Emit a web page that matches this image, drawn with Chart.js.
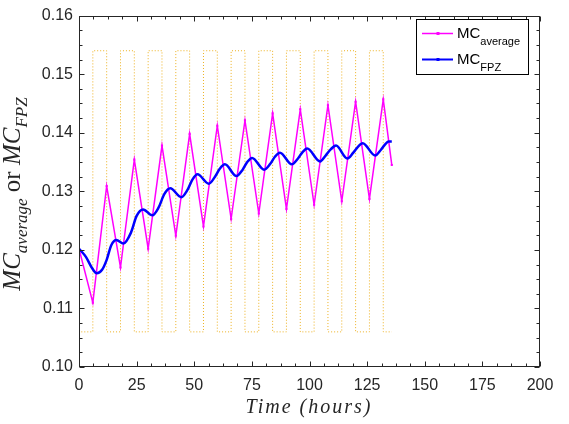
<!DOCTYPE html>
<html>
<head>
<meta charset="utf-8">
<script src="https://cdn.jsdelivr.net/npm/chart.js@4"></script>
<style>
  body { margin: 0; background: #fff; }
  #wrap { width: 569px; height: 424px; }
</style>
</head>
<body>
<div id="wrap"><canvas id="chart" width="569" height="424"></canvas></div>
<script>
// MC_FPZ (blue, smooth)
const fpzHours = [0, 3, 5.5, 7.7, 10, 12, 14, 16.2, 19.3, 22.5, 25, 27.8, 31.8, 34.5, 37, 39.6, 44.4, 47, 49.2, 51.4,
    56.3, 59, 61, 63.3, 68.3, 71, 73, 75.1, 80.3, 83, 85, 87.2, 92.3, 95, 97, 99, 104.6, 107, 109.3, 111.5,
    116.4, 119, 121, 123.1, 128.5, 131, 133, 134.3, 135.7];
const fpzValues = [0.1202, 0.1188, 0.1170, 0.1160, 0.1166, 0.1183, 0.1208, 0.1217, 0.1211, 0.1229, 0.1258, 0.1269, 0.1259, 0.1272, 0.1295, 0.1305, 0.1290, 0.1302, 0.1320, 0.1329,
    0.1313, 0.1325, 0.1338, 0.1346, 0.1326, 0.1337, 0.1350, 0.1357, 0.1337, 0.1347, 0.1359, 0.1366, 0.1346, 0.1356, 0.1367, 0.1373, 0.1351, 0.1361, 0.1372, 0.1378,
    0.1356, 0.1366, 0.1376, 0.1382, 0.1361, 0.1371, 0.1381, 0.1385, 0.1385];

// MC_average (magenta zigzag)
const avgHours = [0, 6, 12, 18, 24, 30, 36, 42, 48, 54, 60, 66, 72, 78, 84, 90, 96, 102, 108, 114, 120, 126, 132, 135.7];
const avgValues = [0.1202, 0.1110, 0.1309, 0.1170, 0.1354, 0.1202, 0.1378, 0.1224, 0.1398, 0.1240, 0.1412, 0.1253,
    0.1421, 0.1262, 0.1433, 0.1270, 0.1440, 0.1277, 0.1447, 0.1283, 0.1453, 0.1287, 0.1457, 0.1345];

// dotted cycle (stepped)
const cycleHours = [0, 0, 6, 12, 18, 24, 30, 36, 42, 48, 54, 60, 66, 72, 78, 84, 90, 96, 102, 108, 114, 120, 126, 132, 135.7];
const cycleValues = [0.122, 0.106, 0.154, 0.106, 0.154, 0.106, 0.154, 0.106, 0.154, 0.106, 0.154, 0.106, 0.154,
    0.106, 0.154, 0.106, 0.154, 0.106, 0.154, 0.106, 0.154, 0.106, 0.154, 0.106, 0.106];

const xTicks = [0, 25, 50, 75, 100, 125, 150, 175, 200];
const yTicks = [0.10, 0.11, 0.12, 0.13, 0.14, 0.15, 0.16];

const axisColor = "#262626";
const sans = "'Liberation Sans', Arial, sans-serif";
const serif = "'Liberation Serif', 'Times New Roman', serif";

const toPoints = (xs, ys) => xs.map((x, i) => ({ x: x, y: ys[i] }));

const framePlugin = {
    id: "frame",
    afterDraw(chart) {
        const ctx = chart.ctx;
        const a = chart.chartArea;
        const xs = chart.scales.x;
        const ys = chart.scales.y;
        const L = Math.round(a.left) + 0.5, R = Math.round(a.right) - 0.5;
        const T = Math.round(a.top) + 0.5, B = Math.round(a.bottom) - 0.5;
        ctx.save();
        ctx.strokeStyle = axisColor;
        ctx.lineWidth = 1;
        ctx.strokeRect(L, T, R - L, B - T);

        // inward ticks, all four sides
        ctx.beginPath();
        for (let v = 0; v <= 200; v += 6.25) {
            const px = Math.round(xs.getPixelForValue(v)) + 0.5;
            const len = xTicks.includes(v) ? 5 : 3;
            ctx.moveTo(px, B); ctx.lineTo(px, B - len);
            ctx.moveTo(px, T); ctx.lineTo(px, T + len);
        }
        for (let i = 0; i <= 24; i++) {
            const v = 0.10 + i * 0.0025;
            const py = Math.round(ys.getPixelForValue(v)) + 0.5;
            const len = i % 4 === 0 ? 5 : 3;
            ctx.moveTo(L, py); ctx.lineTo(L + len, py);
            ctx.moveTo(R, py); ctx.lineTo(R - len, py);
        }
        ctx.stroke();

        // x title
        ctx.fillStyle = axisColor;
        ctx.font = "italic 20px " + serif;
        ctx.letterSpacing = "2px";
        ctx.textAlign = "center";
        ctx.textBaseline = "alphabetic";
        ctx.fillText("Time (hours)", 309, 413);
        ctx.letterSpacing = "0px";

        // y title with subscripts, rotated
        const parts = [
            { t: "MC", f: "italic 25px " + serif, dy: 0 },
            { t: "average", f: "italic 17px " + serif, dy: 7 },
            { t: " or ", f: "25px " + serif, dy: 0 },
            { t: "MC", f: "italic 25px " + serif, dy: 0 },
            { t: "FPZ", f: "italic 17px " + serif, dy: 7 },
        ];
        ctx.textAlign = "left";
        let total = 0;
        parts.forEach((p) => { ctx.font = p.f; p.w = ctx.measureText(p.t).width; total += p.w; });
        ctx.translate(20, 194);
        ctx.rotate(-Math.PI / 2);
        let cx = -total / 2;
        parts.forEach((p) => { ctx.font = p.f; ctx.fillText(p.t, cx, p.dy); cx += p.w; });
        ctx.setTransform(1, 0, 0, 1, 0, 0);

        // legend
        ctx.fillStyle = "#fff";
        ctx.fillRect(416.5, 19.5, 112, 55);
        ctx.strokeStyle = "#000";
        ctx.strokeRect(416.5, 19.5, 112, 55);
        const rows = [
            { c: "#FF00FF", w: 1.5, y: 33.5, sub: "average" },
            { c: "#0000FF", w: 2, y: 59.5, sub: "FPZ" },
        ];
        rows.forEach((r) => {
            ctx.strokeStyle = r.c;
            ctx.lineWidth = r.w;
            ctx.beginPath();
            ctx.moveTo(422, r.y); ctx.lineTo(453, r.y);
            ctx.stroke();
            ctx.fillStyle = r.c;
            ctx.fillRect(436.5, r.y - 1.5, 3, 3);
            ctx.fillStyle = "#000";
            ctx.font = "15px " + sans;
            ctx.fillText("MC", 457, r.y + 4);
            const w = ctx.measureText("MC").width;
            ctx.font = "11px " + sans;
            ctx.fillText(r.sub, 457 + w, r.y + 11);
        });
        ctx.restore();
    },
};

new Chart(document.getElementById("chart"), {
    type: "line",
    data: {
        datasets: [
            {
                label: "MC_FPZ",
                data: toPoints(fpzHours, fpzValues),
                borderColor: "#0000FF",
                borderWidth: 2.5,
                cubicInterpolationMode: "monotone",
                pointRadius: 0,
                fill: false,
            },
            {
                label: "MC_average",
                data: toPoints(avgHours, avgValues),
                borderColor: "#FF00FF",
                backgroundColor: "#FF00FF",
                borderWidth: 1.5,
                pointStyle: "rect",
                pointRadius: 1.5,
                pointBorderWidth: 0,
                fill: false,
            },
            {
                label: "cycle",
                data: toPoints(cycleHours, cycleValues),
                borderColor: "#EDB120",
                borderWidth: 1,
                borderDash: [1, 2],
                stepped: "before",
                pointRadius: 0,
                fill: false,
            },
        ],
    },
    options: {
        responsive: false,
        animation: false,
        devicePixelRatio: 1,
        layout: { padding: { left: 0, top: 9, right: 29, bottom: 0 } },
        plugins: { legend: { display: false }, tooltip: { enabled: false } },
        scales: {
            x: {
                type: "linear",
                min: 0,
                max: 200,
                afterFit: (s) => { s.height = 57; },
                afterBuildTicks: (s) => { s.ticks = xTicks.map((v) => ({ value: v })); },
                grid: { display: false, drawTicks: false },
                border: { display: false },
                ticks: { color: axisColor, font: { family: sans, size: 16 }, padding: 9, maxRotation: 0 },
            },
            y: {
                type: "linear",
                min: 0.10,
                max: 0.16,
                afterFit: (s) => { s.width = 79; },
                afterBuildTicks: (s) => { s.ticks = yTicks.map((v) => ({ value: v })); },
                grid: { display: false, drawTicks: false },
                border: { display: false },
                ticks: { color: axisColor, font: { family: sans, size: 16 }, padding: 6, callback: (v) => v.toFixed(2) },
            },
        },
    },
    plugins: [framePlugin],
});
</script>
</body>
</html>
